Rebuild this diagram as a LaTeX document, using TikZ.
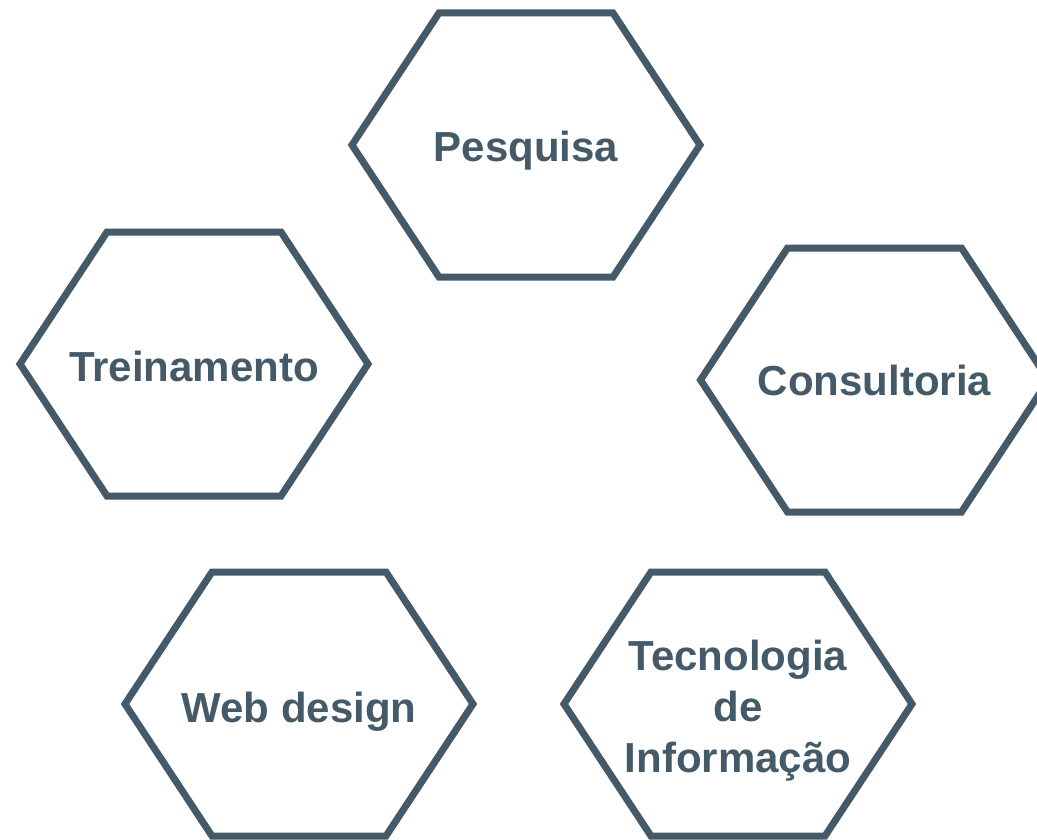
\documentclass[tikz,border=0pt]{standalone}
\usepackage{fontspec}
\setmainfont{Liberation Sans}
\definecolor{slate}{HTML}{455A69}
\newcommand\hexshape[2]{%
  \draw[hexline] (#1-174,#2) -- (#1-87,#2-132) -- (#1+87,#2-132) -- (#1+174,#2)
    -- (#1+87,#2+132) -- (#1-87,#2+132) -- cycle;}
\tikzset{
  hexline/.style={draw=slate, line width=7pt, line join=miter},
  lbl/.style={text=slate, font=\fontsize{42}{51}\selectfont\bfseries, inner sep=0pt, align=center}
}
\begin{document}
\begin{tikzpicture}[x=1pt,y=-1pt]
\useasboundingbox (0,0) rectangle (1037,840);
\clip (0,0) rectangle (1037,840);
\fill[white] (0,0) rectangle (1037,840);
\hexshape{526}{145}
\hexshape{194}{364}
\hexshape{874.5}{380}
\hexshape{299}{704}
\hexshape{738}{704}
\node[lbl, anchor=base] (pesquisa) at (526,162) {Pesquisa};
\node[lbl, anchor=base] (treinamento) at (194,381) {Treinamento};
\node[lbl, anchor=base] (consultoria) at (874.5,395) {Consultoria};
\node[lbl, anchor=base] (webdesign) at (299,722) {Web design};
\node[lbl, anchor=center] (tecnologia) at (738,711) {Tecnologia\\de\\Informação};
\end{tikzpicture}
\end{document}
